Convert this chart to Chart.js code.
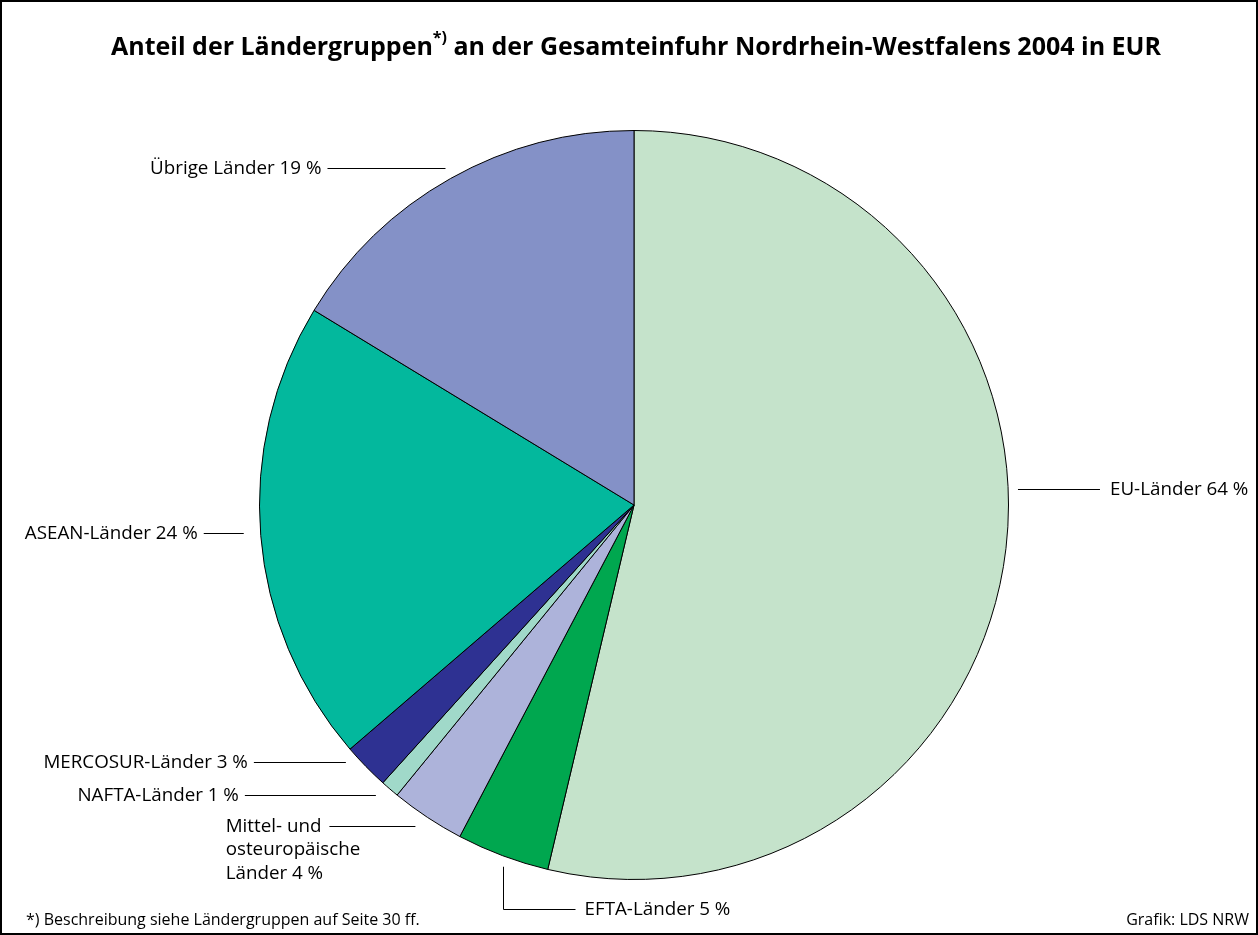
<!DOCTYPE html>
<html>
<head>
<meta charset="utf-8">
<script src="https://cdn.jsdelivr.net/npm/chart.js@4.4.0/dist/chart.umd.min.js"></script>
<style>
  body { margin: 0; background: #fff; }
  #frame { position: relative; width: 1258px; height: 935px; font-family: 'Open Sans', sans-serif; color: #000; }
  #border { position: absolute; left: 0; top: 0; width: 1258px; height: 935px; box-sizing: border-box; border: 2px solid #000; pointer-events: none; }
  #chart { position: absolute; left: 0; top: 0; }
  #title { position: absolute; top: 23px; left: 0; width: 1272px; text-align: center; font-weight: bold; font-size: 25px; line-height: 34px; }
  #title sup { font-size: 16px; position: relative; top: -3px; }
  #note { position: absolute; left: 26px; top: 908px; font-size: 16px; line-height: 22px; }
  #source { position: absolute; right: 9px; top: 908px; font-size: 16px; line-height: 22px; }
</style>
</head>
<body>
<div id="frame">
  <canvas id="chart" width="1258" height="935"></canvas>
  <div id="title">Anteil der Ländergruppen<sup>*)</sup> an der Gesamteinfuhr Nordrhein-Westfalens 2004 in EUR</div>
  <div id="note">*) Beschreibung siehe Ländergruppen auf Seite 30 ff.</div>
  <div id="source">Grafik: LDS NRW</div>
  <div id="border"></div>
</div>
<script>
// Ländergruppen, im Uhrzeigersinn ab 12 Uhr
const groups = ['EU-Länder', 'EFTA-Länder', 'Mittel- und osteuropäische Länder', 'NAFTA-Länder', 'MERCOSUR-Länder', 'ASEAN-Länder', 'Übrige Länder'];
// Prozentangaben laut Beschriftung
const shares = [64, 5, 4, 1, 3, 24, 19];
// Segmentgrößen wie gezeichnet
const values = [53.7, 4.0, 3.2, 0.8, 2.0, 20.0, 16.3];
const colors = ['#c5e3cb', '#00a74f', '#adb3da', '#a0d9c9', '#2e3192', '#03b89d', '#8491c7'];

// Beschriftungslinien: Seite, Verschiebung in y, Abstand zum Kreis, Linienlänge
const leaders = [
    { side: 'right', dy: -59, gap: 12, len: 82 },
    { side: 'down', gap: 11, len: 42, run: 72 },
    { side: 'left', dy: 9, gap: 12, len: 86, lines: ['Mittel- und', 'osteuropäische', 'Länder 4 %'] },
    { side: 'left', dy: 6, gap: 14, len: 131 },
    { side: 'left', dy: -4, gap: 20, len: 92 },
    { side: 'left', dy: -3, gap: 17, len: 40 },
    { side: 'left', dy: -11, gap: 5, len: 118 },
];

const leaderPlugin = {
    id: 'leaders',
    afterDatasetsDraw(chart) {
        const ctx = chart.ctx;
        const arcs = chart.getDatasetMeta(0).data;
        ctx.save();
        ctx.font = '18.8px "Open Sans"';
        ctx.fillStyle = '#000';
        ctx.strokeStyle = '#000';
        ctx.lineWidth = 1;
        ctx.textBaseline = 'middle';
        arcs.forEach((arc, i) => {
            const p = arc.getProps(['x', 'y', 'startAngle', 'endAngle', 'outerRadius']);
            const mid = (p.startAngle + p.endAngle) / 2;
            const ax = p.x + Math.cos(mid) * p.outerRadius;
            const ay = p.y + Math.sin(mid) * p.outerRadius;
            const l = leaders[i];
            const text = groups[i] + ' ' + shares[i] + ' %';
            ctx.beginPath();
            if (l.side === 'down') {
                const x = Math.round(ax) + 0.5;
                const y1 = ay + l.gap;
                const y2 = Math.round(y1 + l.len) + 0.5;
                ctx.moveTo(x, y1);
                ctx.lineTo(x, y2);
                ctx.lineTo(x + l.run, y2);
                ctx.stroke();
                ctx.textAlign = 'left';
                ctx.fillText(text, x + l.run + 9, y2);
                return;
            }
            const y = Math.round(ay + l.dy) + 0.5;
            if (l.side === 'right') {
                const x1 = ax + l.gap;
                ctx.moveTo(x1, y);
                ctx.lineTo(x1 + l.len, y);
                ctx.stroke();
                ctx.textAlign = 'left';
                ctx.fillText(text, x1 + l.len + 10, y);
            } else {
                const x2 = ax - l.gap;
                const x1 = x2 - l.len;
                ctx.moveTo(x1, y);
                ctx.lineTo(x2, y);
                ctx.stroke();
                if (l.lines) {
                    ctx.textAlign = 'left';
                    const w = ctx.measureText(l.lines[0]).width;
                    l.lines.forEach((s, k) => ctx.fillText(s, x1 - 8 - w, y + k * 23.5));
                } else {
                    ctx.textAlign = 'right';
                    ctx.fillText(text, x1 - 6, y);
                }
            }
        });
        ctx.restore();
    },
};

new Chart(document.getElementById('chart'), {
    type: 'pie',
    data: {
        labels: groups,
        datasets: [
            {
                data: values,
                backgroundColor: colors,
                borderColor: '#000',
                borderWidth: 1,
            },
        ],
    },
    options: {
        responsive: false,
        animation: false,
        layout: { padding: { top: 130, bottom: 55, left: 259, right: 249 } },
        plugins: {
            legend: { display: false },
            tooltip: { enabled: false },
            title: { display: false },
        },
    },
    plugins: [leaderPlugin],
});
</script>
</body>
</html>
